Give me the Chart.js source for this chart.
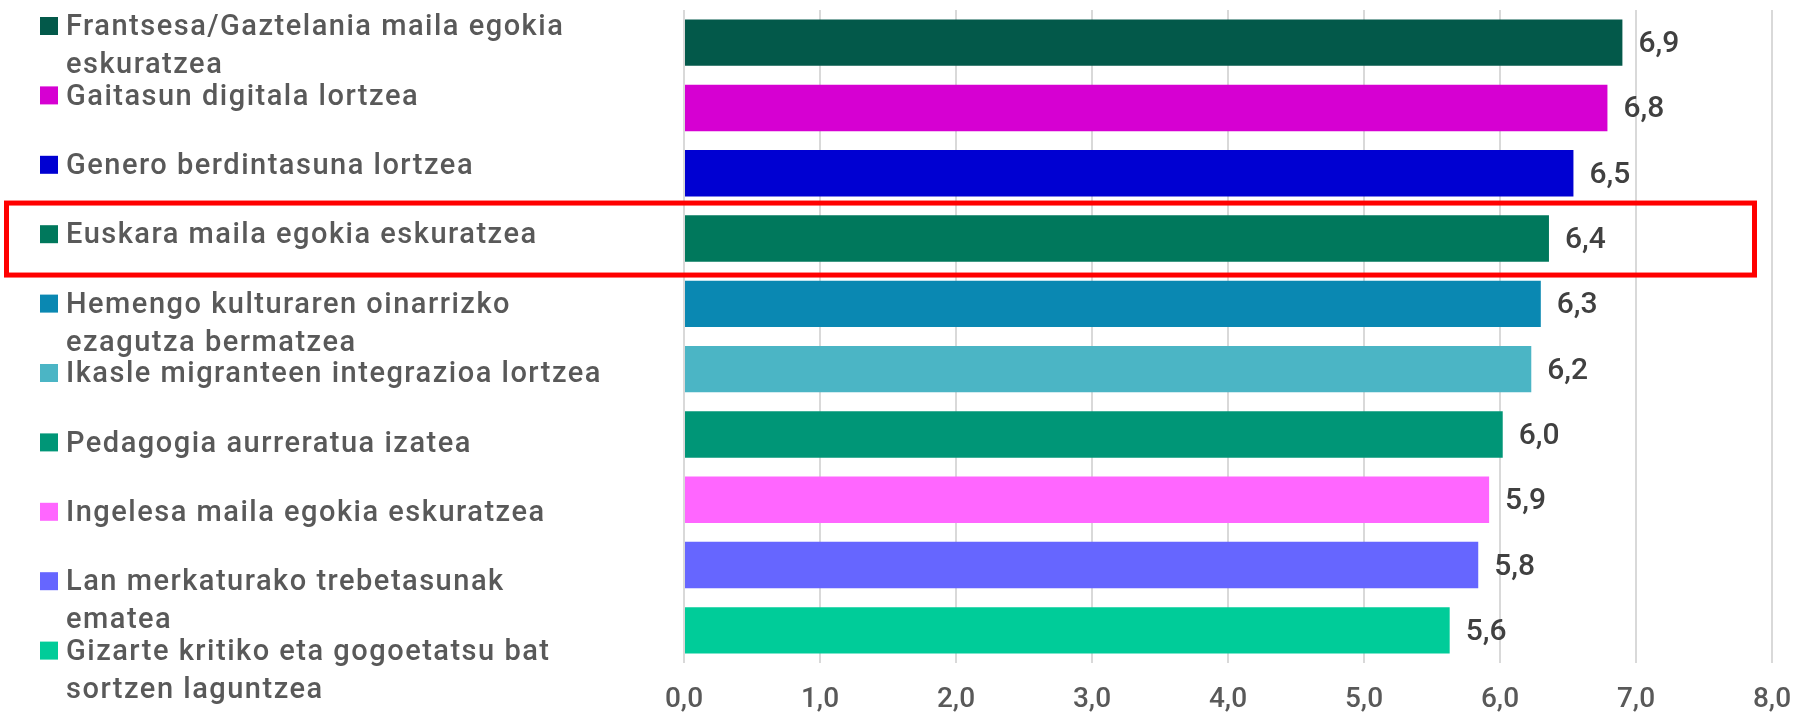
<!DOCTYPE html>
<html>
<head>
<meta charset="utf-8">
<script src="https://cdn.jsdelivr.net/npm/chart.js@4.4.1/dist/chart.umd.min.js"></script>
<style>
    html, body { margin: 0; padding: 0; background: #ffffff; }
    #wrap { width: 1797px; height: 719px; }
</style>
</head>
<body>
<div id="wrap"><canvas id="chart" width="1797" height="719"></canvas></div>
<script>
// categories (multi-line ones are split as in the original legend)
const categories = [
    ['Frantsesa/Gaztelania maila egokia', 'eskuratzea'],
    ['Gaitasun digitala lortzea'],
    ['Genero berdintasuna lortzea'],
    ['Euskara maila egokia eskuratzea'],
    ['Hemengo kulturaren oinarrizko', 'ezagutza bermatzea'],
    ['Ikasle migranteen integrazioa lortzea'],
    ['Pedagogia aurreratua izatea'],
    ['Ingelesa maila egokia eskuratzea'],
    ['Lan merkaturako trebetasunak', 'ematea'],
    ['Gizarte kritiko eta gogoetatsu bat', 'sortzen laguntzea']
];
const scores = [6.90, 6.79, 6.54, 6.36, 6.30, 6.23, 6.02, 5.92, 5.84, 5.63];
const barColors = [
    '#03594A', '#D600D2', '#0000D2', '#00785C', '#0A88B2',
    '#4BB5C5', '#009677', '#FF66FF', '#6666FF', '#00CC99'
];
const xTicks = [0, 1, 2, 3, 4, 5, 6, 7, 8];
const highlightIndex = 3;

const FONT = 'Roboto, "Open Sans", sans-serif';
const fmt = v => v.toFixed(1).replace('.', ',');

// value labels to the right of each bar
const valueLabels = {
    id: 'valueLabels',
    afterDatasetsDraw(chart) {
        const ctx = chart.ctx;
        const meta = chart.getDatasetMeta(0);
        ctx.save();
        ctx.font = '500 30px ' + FONT;
        ctx.fillStyle = '#404040';
        ctx.textAlign = 'left';
        ctx.textBaseline = 'middle';
        meta.data.forEach((bar, i) => {
            ctx.fillText(fmt(scores[i]), bar.x + 16, bar.y + 2);
        });
        ctx.restore();
    }
};

// the left-hand legend with coloured squares
const sideLegend = {
    id: 'sideLegend',
    afterDraw(chart) {
        const ctx = chart.ctx;
        ctx.save();
        ctx.font = '500 29px ' + FONT;
        ctx.letterSpacing = '1.5px';
        ctx.textAlign = 'left';
        ctx.textBaseline = 'middle';
        categories.forEach((lines, i) => {
            const cy = 26 + 69.4 * i;
            ctx.fillStyle = barColors[i];
            ctx.fillRect(40, cy - 9, 18, 18);
            ctx.fillStyle = '#595959';
            lines.forEach((line, j) => {
                ctx.fillText(line, 66, cy + 2 + j * 38);
            });
        });
        ctx.restore();
    }
};

// red frame around the highlighted row
const highlightBox = {
    id: 'highlightBox',
    afterDraw(chart) {
        const ctx = chart.ctx;
        const bar = chart.getDatasetMeta(0).data[highlightIndex];
        ctx.save();
        ctx.strokeStyle = '#FF0000';
        ctx.lineWidth = 5;
        ctx.strokeRect(6.5, bar.y - 35.5, 1748, 72);
        ctx.restore();
    }
};

new Chart(document.getElementById('chart'), {
    type: 'bar',
    data: {
        labels: categories.map(c => c.join(' ')),
        datasets: [{
            data: scores,
            backgroundColor: barColors,
            borderWidth: 0,
            categoryPercentage: 1.0,
            barPercentage: 0.71
        }]
    },
    options: {
        indexAxis: 'y',
        responsive: false,
        animation: false,
        layout: {
            padding: { left: 684, right: 25, top: 10, bottom: 0 }
        },
        plugins: {
            legend: { display: false },
            tooltip: { enabled: false }
        },
        scales: {
            x: {
                min: 0,
                max: 8,
                afterBuildTicks: scale => {
                    scale.ticks = xTicks.map(v => ({ value: v }));
                },
                afterFit: scale => {
                    scale.height = 56;
                    scale.paddingLeft = 0;
                    scale.paddingRight = 0;
                },
                border: { display: false },
                grid: {
                    color: '#D9D9D9',
                    lineWidth: 2,
                    drawTicks: false
                },
                ticks: {
                    padding: 20,
                    color: '#595959',
                    font: { family: FONT, size: 28, weight: '500' },
                    callback: v => fmt(v)
                }
            },
            y: {
                display: false
            }
        }
    },
    plugins: [valueLabels, sideLegend, highlightBox]
});
</script>
</body>
</html>
